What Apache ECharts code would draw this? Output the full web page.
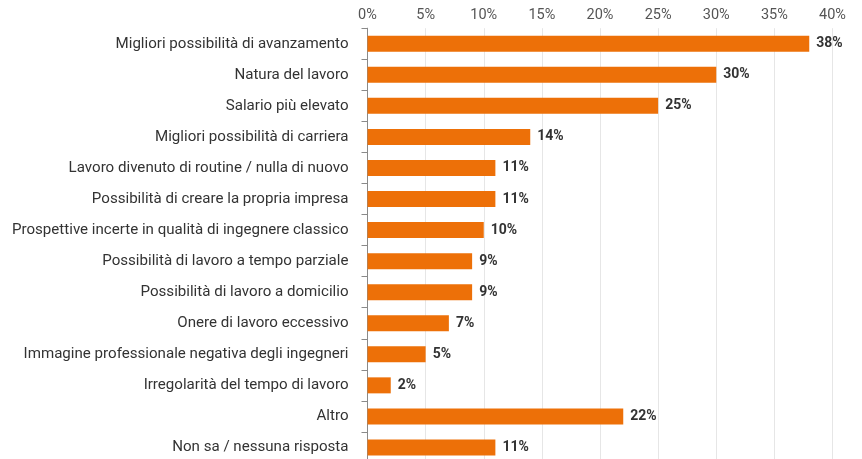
<!DOCTYPE html>
<html><head><meta charset="utf-8">
<script src="https://cdn.jsdelivr.net/npm/echarts@6/dist/echarts.min.js"></script>
<style>html,body{margin:0;padding:0;background:#fff}#c{width:862px;height:459px}</style>
</head><body><div id="c"></div>
<script>
const categories = [
  "Migliori possibilità di avanzamento",
  "Natura del lavoro",
  "Salario più elevato",
  "Migliori possibilità di carriera",
  "Lavoro divenuto di routine / nulla di nuovo",
  "Possibilità di creare la propria impresa",
  "Prospettive incerte in qualità di ingegnere classico",
  "Possibilità di lavoro a tempo parziale",
  "Possibilità di lavoro a domicilio",
  "Onere di lavoro eccessivo",
  "Immagine professionale negativa degli ingegneri",
  "Irregolarità del tempo di lavoro",
  "Altro",
  "Non sa / nessuna risposta"
];
const values = [38, 30, 25, 14, 11, 11, 10, 9, 9, 7, 5, 2, 22, 11];
const xTicks = [0, 5, 10, 15, 20, 25, 30, 35, 40];

const chart = echarts.init(document.getElementById('c'), null, {renderer: 'canvas'});
chart.setOption({
  animation: false,
  backgroundColor: '#fff',
  textStyle: {fontFamily: 'Roboto'},
  grid: {left: 367.5, width: 465, top: 28.2, height: 434.8, containLabel: false, outerBoundsMode: 'none'},
  xAxis: {
    type: 'value', position: 'top', min: 0, max: 40, interval: 5,
    axisLine: {show: false}, axisTick: {show: false},
    splitLine: {show: true, lineStyle: {color: '#e6e6e6', width: 1}},
    axisLabel: {formatter: v => v + '%', color: '#555', fontSize: 14.5, margin: 5, fontFamily: 'Roboto'}
  },
  yAxis: {
    type: 'category', data: categories, inverse: true,
    axisLine: {show: true, lineStyle: {color: '#8a8a8a', width: 1}},
    axisTick: {show: true, length: 6, lineStyle: {color: '#8a8a8a'}},
    axisLabel: {color: '#333', fontSize: 15.1, margin: 19, fontFamily: 'Roboto'}
  },
  series: [{
    type: 'bar', data: values, barWidth: 16,
    itemStyle: {color: '#ED7008'},
    label: {show: true, position: 'right', distance: 7, formatter: p => p.value + '%',
      color: '#333', fontWeight: 'bold', fontSize: 14, fontFamily: 'Roboto'}
  }]
});
</script></body></html>
